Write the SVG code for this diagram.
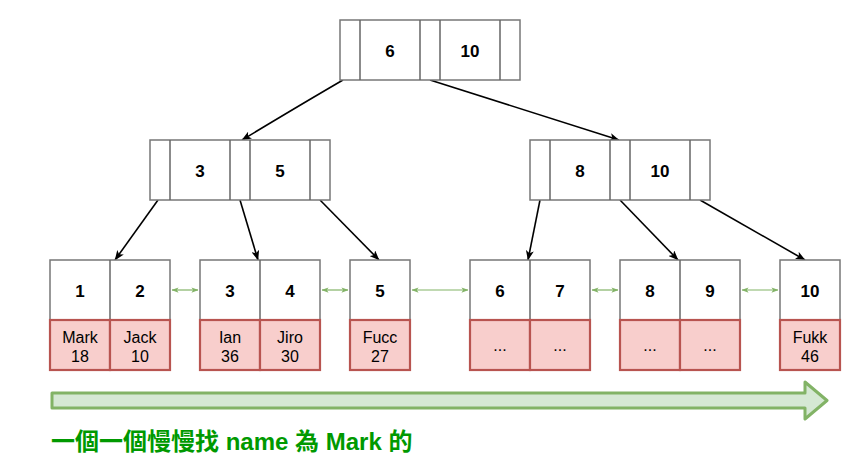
<svg xmlns="http://www.w3.org/2000/svg" width="861" height="471" viewBox="0 0 861 471">
<style>
.box{fill:#ffffff;stroke:#777777;stroke-width:1.5}
.div{stroke:#666666;stroke-width:1.5;fill:none}
.data{fill:#f8cecc;stroke:#b85450;stroke-width:2.2}
.key{font-family:"Liberation Sans",Arial,sans-serif;font-weight:bold;font-size:17px;fill:#000;text-anchor:middle}
.val{font-family:"Liberation Sans",Arial,sans-serif;font-size:16px;fill:#000;text-anchor:middle}
.edge{stroke:#000;stroke-width:1.6;fill:none;marker-end:url(#ah)}
.link{stroke:#82b366;stroke-width:1.2;fill:none;marker-start:url(#gs);marker-end:url(#ge)}
</style>
<defs>
<marker id="ah" viewBox="0 0 10 8" refX="9.5" refY="4" markerWidth="10" markerHeight="8" markerUnits="userSpaceOnUse" orient="auto">
<path d="M0,0 L10,4 L0,8 L2.5,4 z" fill="#000"/>
</marker>
<marker id="ge" viewBox="0 0 8 6" refX="7.5" refY="3" markerWidth="7" markerHeight="6" markerUnits="userSpaceOnUse" orient="auto">
<path d="M0,0 L8,3 L0,6 L2,3 z" fill="#82b366"/>
</marker>
<marker id="gs" viewBox="0 0 8 6" refX="0.5" refY="3" markerWidth="7" markerHeight="6" markerUnits="userSpaceOnUse" orient="auto">
<path d="M8,0 L0,3 L8,6 L6,3 z" fill="#82b366"/>
</marker>
</defs>
<rect width="861" height="471" fill="#ffffff"/>

<g id="connectors">
<path class="edge" d="M343,80 Q300,105 242,140"/>
<path class="edge" d="M430,80 L619,140"/>
<path class="edge" d="M158,200 L115,260"/>
<path class="edge" d="M240,200 L258,260"/>
<path class="edge" d="M320,200 L379,260"/>
<path class="edge" d="M540,200 L528,260"/>
<path class="edge" d="M620,200 L678,260"/>
<path class="edge" d="M700,200 L805,260"/>
<line class="link" x1="172" y1="290" x2="198" y2="290"/>
<line class="link" x1="322" y1="290" x2="348" y2="290"/>
<line class="link" x1="412" y1="290" x2="468" y2="290"/>
<line class="link" x1="592" y1="290" x2="618" y2="290"/>
<line class="link" x1="742" y1="290" x2="778" y2="290"/>
</g>

<g id="root">
<rect class="box" x="340" y="20" width="180" height="60"/>
<path class="div" d="M360,20 V80 M420,20 V80 M440,20 V80 M500,20 V80"/>
<text class="key" x="390" y="57">6</text>
<text class="key" x="470" y="57">10</text>
</g>

<g id="inner-left">
<rect class="box" x="150" y="140" width="180" height="60"/>
<path class="div" d="M170,140 V200 M230,140 V200 M250,140 V200 M310,140 V200"/>
<text class="key" x="200" y="177">3</text>
<text class="key" x="280" y="177">5</text>
</g>

<g id="inner-right">
<rect class="box" x="530" y="140" width="180" height="60"/>
<path class="div" d="M550,140 V200 M610,140 V200 M630,140 V200 M690,140 V200"/>
<text class="key" x="580" y="177">8</text>
<text class="key" x="660" y="177">10</text>
</g>

<g id="leaf-1-2">
<rect class="box" x="50" y="260" width="120" height="60"/>
<path class="div" d="M110,260 V320" stroke="#444"/>
<rect class="data" x="50" y="320" width="60" height="50"/>
<rect class="data" x="110" y="320" width="60" height="50"/>
<text class="key" x="80" y="297">1</text>
<text class="key" x="140" y="297">2</text>
<text class="val" x="80" y="342.5">Mark</text>
<text class="val" x="80" y="361.5">18</text>
<text class="val" x="140" y="342.5">Jack</text>
<text class="val" x="140" y="361.5">10</text>
</g>

<g id="leaf-3-4">
<rect class="box" x="200" y="260" width="120" height="60"/>
<path class="div" d="M260,260 V320"/>
<rect class="data" x="200" y="320" width="60" height="50"/>
<rect class="data" x="260" y="320" width="60" height="50"/>
<text class="key" x="230" y="297">3</text>
<text class="key" x="290" y="297">4</text>
<text class="val" x="230" y="342.5">Ian</text>
<text class="val" x="230" y="361.5">36</text>
<text class="val" x="290" y="342.5">Jiro</text>
<text class="val" x="290" y="361.5">30</text>
</g>

<g id="leaf-5">
<rect class="box" x="350" y="260" width="60" height="60"/>
<rect class="data" x="350" y="320" width="60" height="50"/>
<text class="key" x="380" y="297">5</text>
<text class="val" x="380" y="342.5">Fucc</text>
<text class="val" x="380" y="361.5">27</text>
</g>

<g id="leaf-6-7">
<rect class="box" x="470" y="260" width="120" height="60"/>
<path class="div" d="M530,260 V320"/>
<rect class="data" x="470" y="320" width="60" height="50"/>
<rect class="data" x="530" y="320" width="60" height="50"/>
<text class="key" x="500" y="297">6</text>
<text class="key" x="560" y="297">7</text>
<text class="val" x="500" y="351">...</text>
<text class="val" x="560" y="351">...</text>
</g>

<g id="leaf-8-9">
<rect class="box" x="620" y="260" width="120" height="60"/>
<path class="div" d="M680,260 V320"/>
<rect class="data" x="620" y="320" width="60" height="50"/>
<rect class="data" x="680" y="320" width="60" height="50"/>
<text class="key" x="650" y="297">8</text>
<text class="key" x="710" y="297">9</text>
<text class="val" x="650" y="351">...</text>
<text class="val" x="710" y="351">...</text>
</g>

<g id="leaf-10">
<rect class="box" x="780" y="260" width="60" height="60"/>
<rect class="data" x="780" y="320" width="60" height="50"/>
<text class="key" x="810" y="297">10</text>
<text class="val" x="810" y="342.5">Fukk</text>
<text class="val" x="810" y="361.5">46</text>
</g>

<g id="scan-arrow">
<path d="M52,393 L805,393 L805,382 L827,400.5 L805,419 L805,408 L52,408 Z" fill="#d5e8d4" stroke="#82b366" stroke-width="3" stroke-linejoin="round"/>
</g>

<g id="caption">
<text x="51" y="450" font-family="'Liberation Sans','Noto Sans CJK TC',sans-serif" font-weight="bold" font-size="24" fill="#009900">一個一個慢慢找 name 為 Mark 的</text>
</g>
</svg>
